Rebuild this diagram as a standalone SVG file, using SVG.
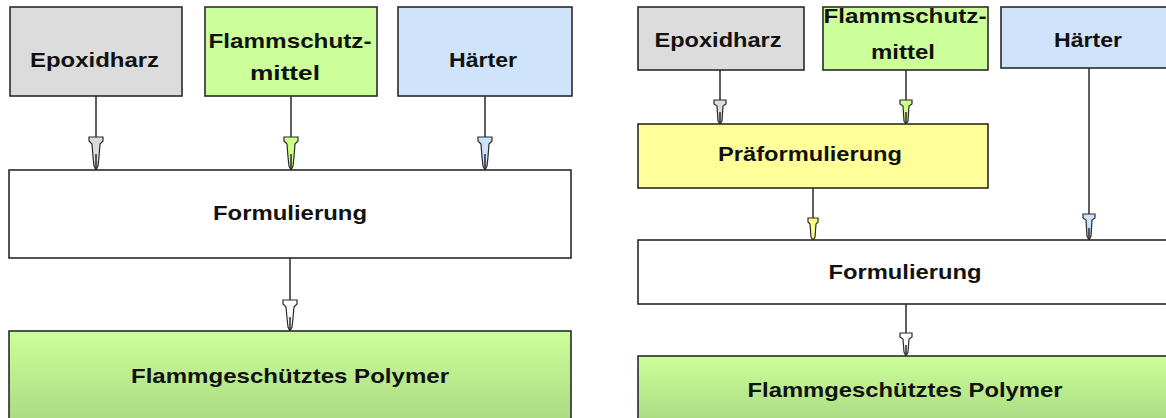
<svg xmlns="http://www.w3.org/2000/svg" width="1166" height="418" viewBox="0 0 1166 418">
<style>
.box{stroke:#2a2a2a;stroke-width:1.6}
.t{font-family:"Liberation Sans",Arial,sans-serif;font-weight:bold;font-size:21px;fill:#111;text-anchor:middle}
.ln{stroke:#2a2a2a;stroke-width:1.5;fill:none}
.ah{stroke:#2a2a2a;stroke-width:1.2}
</style>
<defs>
<linearGradient id="gp" x1="0" y1="0" x2="0" y2="1">
<stop offset="0" stop-color="#ccff99"/>
<stop offset="1" stop-color="#a9d882"/>
</linearGradient>
</defs>
<rect width="1166" height="418" fill="#ffffff"/>

<g id="connectors">
<!-- left -->
<line class="ln" x1="96" y1="96" x2="96" y2="170"/>
<path class="ah" fill="#dcdcdc" d="M89,137 H103 V141 L100,144 L99,157 L98,166 L96,170 L94,166 L93,157 L92,144 L89,141 Z"/>
<line class="ln" x1="96" y1="154" x2="96" y2="170"/>
<line class="ln" x1="291" y1="96" x2="291" y2="170"/>
<path class="ah" fill="#ccff88" d="M284,137 H298 V141 L295,144 L294,157 L293,166 L291,170 L289,166 L288,157 L287,144 L284,141 Z"/>
<line class="ln" x1="291" y1="154" x2="291" y2="170"/>
<line class="ln" x1="485" y1="96" x2="485" y2="170"/>
<path class="ah" fill="#cce4fb" d="M478,137 H492 V141 L489,144 L488,157 L487,166 L485,170 L483,166 L482,157 L481,144 L478,141 Z"/>
<line class="ln" x1="485" y1="154" x2="485" y2="170"/>
<line class="ln" x1="290" y1="258" x2="290" y2="331"/>
<path class="ah" fill="#ffffff" d="M283,300 H297 V304 L294,307 L293,318 L292,327 L290,331 L288,327 L287,318 L286,307 L283,304 Z"/>
<line class="ln" x1="290" y1="317" x2="290" y2="331"/>
<!-- right -->
<line class="ln" x1="720" y1="70" x2="720" y2="124"/>
<path class="ah" fill="#dcdcdc" d="M714,100 H726 V104 L723,106 L722,121 L720,124 L718,121 L717,106 L714,104 Z"/>
<line class="ln" x1="720" y1="112" x2="720" y2="124"/>
<line class="ln" x1="906" y1="70" x2="906" y2="124"/>
<path class="ah" fill="#ccff88" d="M900,100 H912 V104 L909,106 L908,121 L906,124 L904,121 L903,106 L900,104 Z"/>
<line class="ln" x1="906" y1="112" x2="906" y2="124"/>
<line class="ln" x1="813" y1="188" x2="813" y2="240"/>
<path class="ah" fill="#ffff88" d="M808,218 H818 V222 L816,224 L815,237 L813,240 L811,237 L810,224 L808,222 Z"/>
<line class="ln" x1="1089" y1="68" x2="1089" y2="240"/>
<path class="ah" fill="#cce4fb" d="M1083,214 H1095 V218 L1092,220 L1091,236 L1089,240 L1087,236 L1086,220 L1083,218 Z"/>
<line class="ln" x1="1089" y1="228" x2="1089" y2="240"/>
<line class="ln" x1="906" y1="304" x2="906" y2="356"/>
<path class="ah" fill="#ffffff" d="M900,333 H912 V337 L909,339 L908,352 L906,356 L904,352 L903,339 L900,337 Z"/>
<line class="ln" x1="906" y1="345" x2="906" y2="356"/>
</g>

<g id="l-epoxidharz">
<rect class="box" x="10" y="7" width="172" height="89" fill="#dcdcdc"/>
<text class="t" x="94.5" y="67" textLength="129" lengthAdjust="spacingAndGlyphs">Epoxidharz</text>
</g>
<g id="l-flammschutzmittel">
<rect class="box" x="205" y="7" width="172" height="89" fill="#ccff99"/>
<text class="t" x="290" y="48" textLength="163" lengthAdjust="spacingAndGlyphs">Flammschutz-</text>
<text class="t" x="285" y="80" textLength="70" lengthAdjust="spacingAndGlyphs">mittel</text>
</g>
<g id="l-haerter">
<rect class="box" x="398" y="7" width="174" height="89" fill="#cfe3fa"/>
<text class="t" x="483" y="67" textLength="68" lengthAdjust="spacingAndGlyphs">Härter</text>
</g>
<g id="l-formulierung">
<rect class="box" x="9" y="170" width="562" height="88" fill="#ffffff"/>
<text class="t" x="290" y="220" textLength="154" lengthAdjust="spacingAndGlyphs">Formulierung</text>
</g>
<g id="l-polymer">
<rect class="box" x="9" y="331" width="562" height="95" fill="url(#gp)"/>
<text class="t" x="290" y="383" textLength="318" lengthAdjust="spacingAndGlyphs">Flammgeschütztes Polymer</text>
</g>

<g id="r-epoxidharz">
<rect class="box" x="638" y="7" width="166" height="63" fill="#dcdcdc"/>
<text class="t" x="718" y="47" textLength="127" lengthAdjust="spacingAndGlyphs">Epoxidharz</text>
</g>
<g id="r-flammschutzmittel">
<rect class="box" x="823" y="7" width="165" height="63" fill="#ccff99"/>
<text class="t" x="905" y="23" textLength="163" lengthAdjust="spacingAndGlyphs">Flammschutz-</text>
<text class="t" x="903" y="59" textLength="64" lengthAdjust="spacingAndGlyphs">mittel</text>
</g>
<g id="r-haerter">
<rect class="box" x="1001" y="7" width="177" height="61" fill="#cfe3fa"/>
<text class="t" x="1088" y="47" textLength="68" lengthAdjust="spacingAndGlyphs">Härter</text>
</g>
<g id="r-praeformulierung">
<rect class="box" x="638" y="124" width="350" height="64" fill="#ffff99"/>
<text class="t" x="810" y="161" textLength="184" lengthAdjust="spacingAndGlyphs">Präformulierung</text>
</g>
<g id="r-formulierung">
<rect class="box" x="638" y="240" width="540" height="64" fill="#ffffff"/>
<text class="t" x="905" y="279" textLength="153" lengthAdjust="spacingAndGlyphs">Formulierung</text>
</g>
<g id="r-polymer">
<rect class="box" x="638" y="356" width="540" height="70" fill="url(#gp)"/>
<text class="t" x="905" y="397" textLength="315" lengthAdjust="spacingAndGlyphs">Flammgeschütztes Polymer</text>
</g>
</svg>
